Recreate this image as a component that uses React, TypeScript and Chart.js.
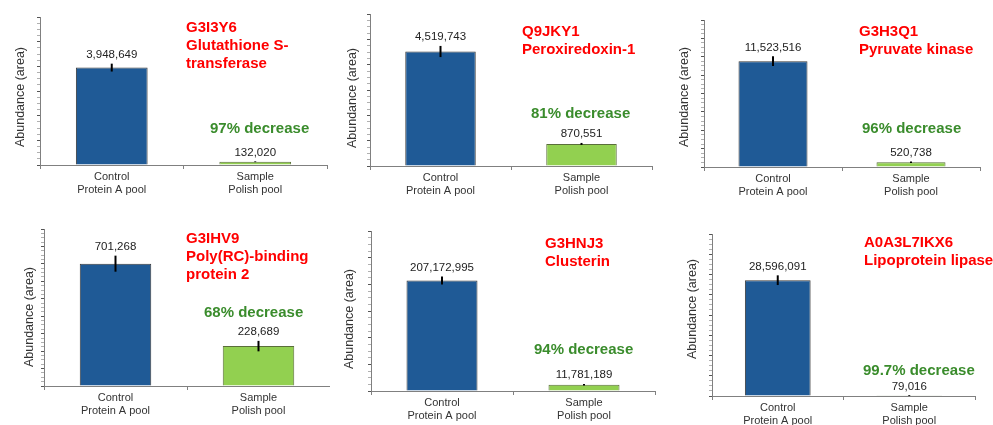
import React, { useEffect, useRef } from "react";
import { Chart, registerables } from "chart.js";
Chart.register(...registerables);

const FONT = "'Liberation Sans', Arial, Helvetica, sans-serif";

const categories = [["Control", "Protein A pool"], ["Sample", "Polish pool"]];
const proteinIds = ["G3I3Y6", "Q9JKY1", "G3H3Q1", "G3IHV9", "G3HNJ3", "A0A3L7IKX6"];
const proteinNames = [
  ["Glutathione S-", "transferase"],
  ["Peroxiredoxin-1"],
  ["Pyruvate kinase"],
  ["Poly(RC)-binding", "protein 2"],
  ["Clusterin"],
  ["Lipoprotein lipase"],
];
const controlValues = [3948649, 4519743, 11523516, 701268, 207172995, 28596091];
const sampleValues = [132020, 870551, 520738, 228689, 11781189, 79016];
const controlErrors = [160000, 220000, 540000, 46000, 7500000, 1200000];
const sampleErrors = [15000, 40000, 90000, 30000, 1500000, 120000];
const decreaseLabels = ["97% decrease", "81% decrease", "96% decrease", "68% decrease", "94% decrease", "99.7% decrease"];
const axisMax = [6000000, 6000000, 16000000, 900000, 300000000, 40000000];
const majorSteps = [1000000, 1000000, 2000000, 100000, 50000000, 5000000];
const yAxisTitle = "Abundance (area)";

// layout (absolute page coordinates)
const panelLayout = [
  { left: 0, top: 0, width: 330, height: 207, yWidth: 40, padTop: 17, padRight: 3, xHeight: 42, yTitleX: 21, yTitleY: 97, titleX: 186, titleY: 28, decX: 210, decY: 129 },
  { left: 330, top: 0, width: 330, height: 207, yWidth: 40, padTop: 14, padRight: 8, xHeight: 41, yTitleX: 353, yTitleY: 98, titleX: 522, titleY: 32, decX: 531, decY: 114 },
  { left: 660, top: 0, width: 333, height: 207, yWidth: 44, padTop: 20, padRight: 13, xHeight: 40, yTitleX: 685, yTitleY: 97, titleX: 859, titleY: 32, decX: 862, decY: 129 },
  { left: 0, top: 207, width: 330, height: 218, yWidth: 44, padTop: 22, padRight: 0, xHeight: 39, yTitleX: 30, yTitleY: 317, titleX: 186, titleY: 239, decX: 204, decY: 313 },
  { left: 330, top: 207, width: 330, height: 218, yWidth: 41, padTop: 24, padRight: 5, xHeight: 34, yTitleX: 350, yTitleY: 319, titleX: 545, titleY: 244, decX: 534, decY: 350 },
  { left: 660, top: 207, width: 333, height: 218, yWidth: 52, padTop: 27, padRight: 18, xHeight: 29, yTitleX: 693, yTitleY: 309, titleX: 864, titleY: 243, decX: 863, decY: 371 },
];

function Panel({ idx }: { idx: number }) {
  const ref = useRef<HTMLCanvasElement | null>(null);
  const L = panelLayout[idx];

  useEffect(() => {
    const canvas = ref.current;
    if (!canvas) return;
    const values = [controlValues[idx], sampleValues[idx]];
    const errors = [controlErrors[idx], sampleErrors[idx]];
    const major = majorSteps[idx];

    const overlay = {
      id: "overlay" + idx,
      afterDatasetsDraw(chart: any) {
        const ctx = chart.ctx;
        const meta = chart.getDatasetMeta(0);
        const ys = chart.scales.y;
        ctx.save();
        meta.data.forEach((el: any, i: number) => {
          const v = values[i];
          const e = errors[i];
          const yTop = ys.getPixelForValue(v + e);
          const yBot = ys.getPixelForValue(Math.max(0, v - e));
          ctx.strokeStyle = "#000";
          ctx.lineWidth = 2;
          ctx.beginPath();
          ctx.moveTo(el.x, yTop);
          ctx.lineTo(el.x, yBot);
          ctx.stroke();
          ctx.fillStyle = "#222";
          ctx.font = `11.5px ${FONT}`;
          ctx.textAlign = "center";
          ctx.textBaseline = "bottom";
          ctx.fillText(v.toLocaleString("en-US"), el.x, yTop - 3);
        });
        ctx.restore();
      },
      afterDraw(chart: any) {
        const ctx = chart.ctx;
        ctx.save();
        // y-axis title
        ctx.save();
        ctx.translate(L.yTitleX - L.left, L.yTitleY - L.top);
        ctx.rotate(-Math.PI / 2);
        ctx.textAlign = "center";
        ctx.textBaseline = "middle";
        ctx.font = `12.5px ${FONT}`;
        ctx.fillStyle = "#333";
        ctx.fillText(yAxisTitle, 0, 0);
        ctx.restore();
        // protein title
        ctx.textAlign = "left";
        ctx.textBaseline = "middle";
        ctx.font = `bold 15px ${FONT}`;
        ctx.fillStyle = "#ff0000";
        const lines = [proteinIds[idx], ...proteinNames[idx]];
        lines.forEach((t, k) => {
          ctx.fillText(t, L.titleX - L.left, L.titleY - L.top + k * 18);
        });
        ctx.fillStyle = "#3a8c2c";
        ctx.fillText(decreaseLabels[idx], L.decX - L.left, L.decY - L.top);
        ctx.restore();
      },
    };

    const chart = new Chart(canvas, {
      type: "bar",
      data: {
        labels: categories,
        datasets: [
          {
            data: values,
            backgroundColor: ["#1f5a96", "#92d050"],
            borderColor: ["#3a3a3a", "#5a6e3a"],
            borderWidth: 1,
            barPercentage: 0.5,
            categoryPercentage: 1,
          },
        ],
      },
      options: {
        responsive: false,
        animation: false,
        devicePixelRatio: 1,
        layout: { padding: { top: L.padTop, right: L.padRight, left: 0, bottom: 0 } },
        plugins: { legend: { display: false }, tooltip: { enabled: false } },
        scales: {
          x: {
            grid: { display: true, drawOnChartArea: false, drawTicks: true, tickLength: 4, color: "#808080", offset: true },
            border: { display: true, color: "#808080", width: 1 },
            ticks: { color: "#333", font: { size: 11, family: FONT }, padding: 1, maxRotation: 0, autoSkip: false },
            afterFit: (s: any) => { s.height = L.xHeight; },
          },
          y: {
            min: 0,
            max: axisMax[idx],
            ticks: { display: false, stepSize: major / 4 },
            grid: {
              display: true,
              drawOnChartArea: false,
              drawTicks: true,
              tickLength: 3,
              color: "#808080",
              tickColor: (c: any) => {
                const v = c.tick ? c.tick.value : 0;
                return Math.abs(v / major - Math.round(v / major)) < 1e-6 ? "#555" : "#b0b0b0";
              },
            },
            border: { display: true, color: "#808080", width: 1 },
            title: { display: false },
            afterFit: (s: any) => { s.width = L.yWidth; },
          },
        },
      } as any,
      plugins: [overlay],
    });
    return () => chart.destroy();
  }, [idx]);

  return (
    <canvas
      ref={ref}
      width={L.width}
      height={L.height}
      style={{ position: "absolute", left: L.left, top: L.top, width: L.width, height: L.height }}
    />
  );
}

export default function App() {
  useEffect(() => {
    Chart.defaults.font.family = FONT;
  }, []);
  return (
    <div style={{ position: "absolute", left: 0, top: 0, width: 993, height: 425, background: "#fff", overflow: "hidden" }}>
      {panelLayout.map((_, i) => (
        <Panel key={i} idx={i} />
      ))}
    </div>
  );
}
